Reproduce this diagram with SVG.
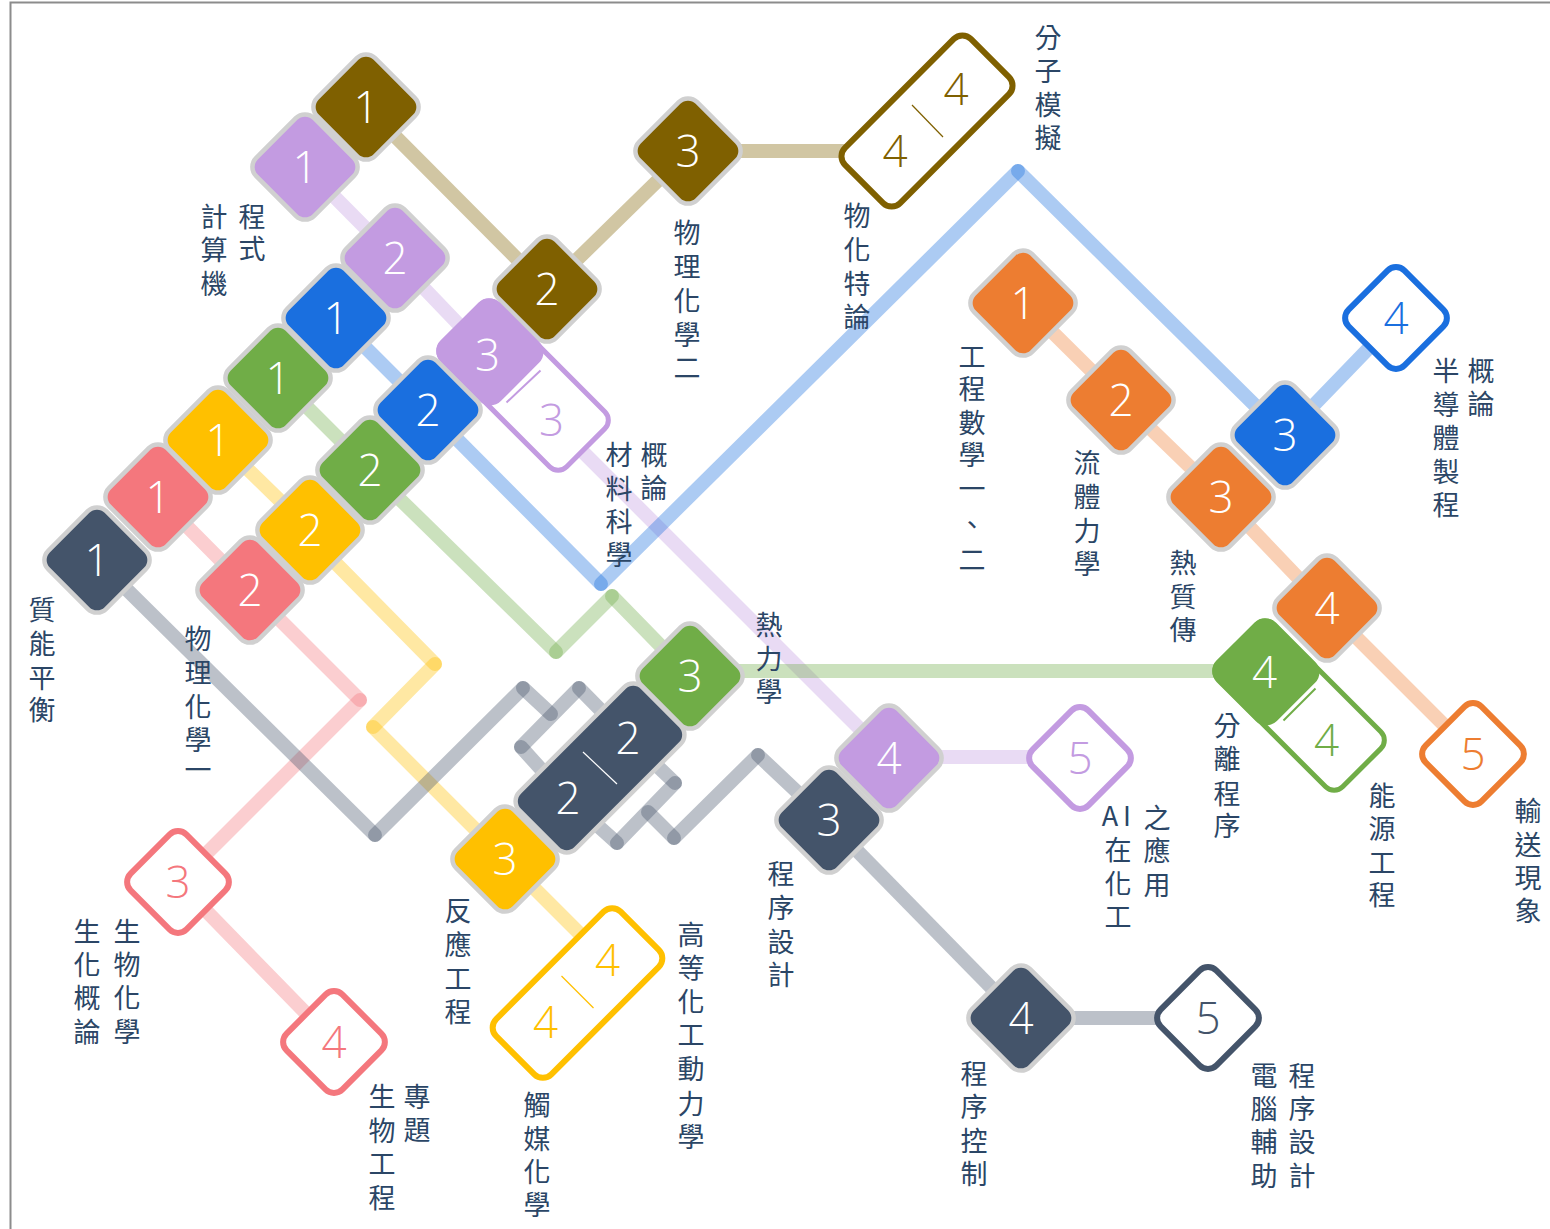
<svg xmlns="http://www.w3.org/2000/svg" width="1550" height="1229" viewBox="0 0 1550 1229">
<style>
.num{font-family:"Open Sans","Liberation Sans",sans-serif;font-weight:300;font-size:44px;text-anchor:middle}
.w{fill:#fff}
.lb{font-family:"Noto Sans CJK TC","Noto Sans CJK SC",sans-serif;font-size:27px;fill:#2b4666;text-anchor:middle}
.f{stroke:#d0d0d0;stroke-width:4.5}
.o{fill:#fff;stroke-width:6}
.c line{fill:none;stroke-width:14;stroke-linecap:round;stroke-opacity:.36}
.brown{--c:#7f6000}.purple{--c:#c39be1}.blue{--c:#1a6fdf}.green{--c:#70ad47}.yellow{--c:#ffc000}.red{--c:#f4777d}.dark{--c:#44546a}.orange{--c:#ed7d31}
.f,.s{fill:var(--c)}
.o,.c .k{stroke:var(--c)}
.t{fill:var(--c)}
.dv{stroke-width:1.2;fill:none}
</style>
<defs>
<rect id="sq" x="-41" y="-41" width="82" height="82" rx="13" transform="rotate(45)"/>
<rect id="sqo" x="-39.5" y="-39.5" width="79" height="79" rx="12" transform="rotate(45)"/>
</defs>
<rect id="frame" x="10.5" y="2.5" width="1600" height="1300" fill="#fff" stroke="#8c8c8c" stroke-width="2"/>
<g id="connectors" class="c">
<g class="brown"><line class="k" x1="366" y1="107" x2="547" y2="289"/><line class="k" x1="547" y1="289" x2="688" y2="151"/><line class="k" x1="688" y1="151" x2="895" y2="151"/></g>
<g class="purple"><line class="k" x1="305" y1="167" x2="395" y2="258"/><line class="k" x1="395" y1="258" x2="488" y2="355"/><line class="k" x1="551" y1="420" x2="889" y2="758"/><line class="k" x1="889" y1="757" x2="1079" y2="757"/></g>
<g class="blue"><line class="k" x1="336" y1="318" x2="428" y2="410"/><line class="k" x1="428" y1="410" x2="601" y2="584"/><line class="k" x1="601" y1="584" x2="1018" y2="171"/><line class="k" x1="1018" y1="171" x2="1285" y2="435"/><line class="k" x1="1285" y1="435" x2="1396" y2="320"/></g>
<g class="green"><line class="k" x1="278" y1="378" x2="370" y2="470"/><line class="k" x1="370" y1="470" x2="556" y2="652"/><line class="k" x1="556" y1="652" x2="612" y2="596"/><line class="k" x1="612" y1="596" x2="690" y2="676"/><line class="k" x1="690" y1="671" x2="1265" y2="671"/></g>
<g class="yellow"><line class="k" x1="218" y1="440" x2="310" y2="530"/><line class="k" x1="309" y1="536" x2="435" y2="664"/><line class="k" x1="435" y1="664" x2="373" y2="727"/><line class="k" x1="373" y1="727" x2="505" y2="859"/><line class="k" x1="505" y1="859" x2="607" y2="961"/></g>
<g class="red"><line class="k" x1="158" y1="497" x2="250" y2="590"/><line class="k" x1="250" y1="590" x2="360" y2="700"/><line class="k" x1="360" y1="700" x2="178" y2="882"/><line class="k" x1="178" y1="882" x2="334" y2="1042"/></g>
<g class="dark"><line class="k" x1="97" y1="560" x2="375" y2="835"/><line class="k" x1="375" y1="835" x2="523" y2="688"/><line class="k" x1="523" y1="688" x2="551" y2="714"/><line class="k" x1="579" y1="688" x2="521" y2="747"/><line class="k" x1="579" y1="688" x2="628" y2="738"/><line class="k" x1="521" y1="747" x2="567" y2="798"/><line class="k" x1="628" y1="738" x2="675" y2="783"/><line class="k" x1="675" y1="783" x2="617" y2="843"/><line class="k" x1="617" y1="843" x2="567" y2="798"/><line class="k" x1="648" y1="812" x2="674" y2="838"/><line class="k" x1="674" y1="838" x2="758" y2="755"/><line class="k" x1="758" y1="755" x2="829" y2="822"/><line class="k" x1="829" y1="822" x2="1021" y2="1018"/><line class="k" x1="1021" y1="1018" x2="1208" y2="1018"/></g>
<g class="orange"><line class="k" x1="1023" y1="303" x2="1121" y2="400"/><line class="k" x1="1121" y1="400" x2="1221" y2="497"/><line class="k" x1="1221" y1="497" x2="1327" y2="608"/><line class="k" x1="1327" y1="608" x2="1473" y2="754"/></g>
</g>
<g id="nodes">
<g id="n-brown-1" class="brown" transform="translate(366 107)"><use href="#sq" class="f"/><text class="num w" y="16">1</text></g>
<g id="n-purple-1" class="purple" transform="translate(305 167)"><use href="#sq" class="f"/><text class="num w" y="16">1</text></g>
<g id="n-purple-2" class="purple" transform="translate(395 258)"><use href="#sq" class="f"/><text class="num w" y="16">2</text></g>
<g id="n-blue-1" class="blue" transform="translate(336 318)"><use href="#sq" class="f"/><text class="num w" y="16">1</text></g>
<g id="n-green-1" class="green" transform="translate(278 378)"><use href="#sq" class="f"/><text class="num w" y="16">1</text></g>
<g id="n-yellow-1" class="yellow" transform="translate(218 440)"><use href="#sq" class="f"/><text class="num w" y="16">1</text></g>
<g id="n-red-1" class="red" transform="translate(158 497)"><use href="#sq" class="f"/><text class="num w" y="16">1</text></g>
<g id="n-dark-1" class="dark" transform="translate(97 560)"><use href="#sq" class="f"/><text class="num w" y="16">1</text></g>
<g id="n-brown-2" class="brown" transform="translate(547 289)"><use href="#sq" class="f"/><text class="num w" y="16">2</text></g>
<g id="n-brown-3" class="brown" transform="translate(688 151)"><use href="#sq" class="f"/><text class="num w" y="16">3</text></g>
<g id="n-brown-44" class="brown" transform="translate(927 121)"><rect class="o" x="-89" y="-39" width="178" height="78" rx="12" transform="rotate(-45)"/><line class="o dv" x1="-15" y1="-16" x2="16" y2="16"/><text class="num t" x="-32" y="46">4</text><text class="num t" x="29" y="-16">4</text></g>
<g id="n-purple-33" class="purple" transform="translate(523.5 385.5)"><g transform="rotate(45)"><rect class="o" style="stroke-width:5" x="-88" y="-39" width="176" height="78" rx="12"/><rect class="s" x="-90" y="-42" width="85" height="84" rx="15"/></g><line class="o dv" style="stroke-width:2" x1="-17" y1="17" x2="17" y2="-15"/><text class="num t" x="28" y="50">3</text><text class="num w" x="-36" y="-15">3</text></g>
<g id="n-blue-2" class="blue" transform="translate(428 410)"><use href="#sq" class="f"/><text class="num w" y="16">2</text></g>
<g id="n-green-2" class="green" transform="translate(370 470)"><use href="#sq" class="f"/><text class="num w" y="16">2</text></g>
<g id="n-yellow-2" class="yellow" transform="translate(310 530)"><use href="#sq" class="f"/><text class="num w" y="16">2</text></g>
<g id="n-red-2" class="red" transform="translate(250 590)"><use href="#sq" class="f"/><text class="num w" y="16">2</text></g>
<g id="n-dark-22" class="dark" transform="translate(600 768)"><rect class="f" x="-87" y="-40" width="174" height="80" rx="13" transform="rotate(-45)"/><line stroke="#fff" stroke-width="1.2" x1="-17" y1="-16" x2="17" y2="16"/><text class="num w" x="-32" y="46">2</text><text class="num w" x="28" y="-14">2</text></g>
<g id="n-green-3" class="green" transform="translate(690 676)"><use href="#sq" class="f"/><text class="num w" y="16">3</text></g>
<g id="n-yellow-3" class="yellow" transform="translate(505 859)"><use href="#sq" class="f"/><text class="num w" y="16">3</text></g>
<g id="n-yellow-44" class="yellow" transform="translate(577.5 993)"><rect class="o" x="-88" y="-39" width="176" height="78" rx="12" transform="rotate(-45)"/><line class="o dv" x1="-16" y1="-17" x2="16" y2="15"/><text class="num t" x="-32" y="45">4</text><text class="num t" x="30" y="-17">4</text></g>
<g id="n-red-3" class="red" transform="translate(178 882)"><use href="#sqo" class="o"/><text class="num t" y="16">3</text></g>
<g id="n-red-4" class="red" transform="translate(334 1042)"><use href="#sqo" class="o"/><text class="num t" y="16">4</text></g>
<g id="n-dark-3" class="dark" transform="translate(829 820)"><use href="#sq" class="f"/><text class="num w" y="16">3</text></g>
<g id="n-purple-4" class="purple" transform="translate(889 758)"><use href="#sq" class="f"/><text class="num w" y="16">4</text></g>
<g id="n-purple-5" class="purple" transform="translate(1080 758)"><use href="#sqo" class="o"/><text class="num t" y="16">5</text></g>
<g id="n-dark-4" class="dark" transform="translate(1021 1018)"><use href="#sq" class="f"/><text class="num w" y="16">4</text></g>
<g id="n-dark-5" class="dark" transform="translate(1208 1018)"><use href="#sqo" class="o"/><text class="num t" y="16">5</text></g>
<g id="n-orange-1" class="orange" transform="translate(1023 303)"><use href="#sq" class="f"/><text class="num w" y="16">1</text></g>
<g id="n-orange-2" class="orange" transform="translate(1121 400)"><use href="#sq" class="f"/><text class="num w" y="16">2</text></g>
<g id="n-green-44" class="green" transform="translate(1299.5 705.5)"><g transform="rotate(45)"><rect class="o" style="stroke-width:5" x="-88" y="-39" width="176" height="78" rx="12"/><rect class="s" x="-90" y="-42" width="85" height="84" rx="15"/></g><line class="o dv" style="stroke-width:2" x1="-16" y1="15" x2="16" y2="-17"/><text class="num t" x="27" y="50">4</text><text class="num w" x="-35" y="-18">4</text></g>
<g id="n-orange-3" class="orange" transform="translate(1221 497)"><use href="#sq" class="f"/><text class="num w" y="16">3</text></g>
<g id="n-blue-3" class="blue" transform="translate(1285 435)"><use href="#sq" class="f"/><text class="num w" y="16">3</text></g>
<g id="n-blue-4" class="blue" transform="translate(1396 318)"><use href="#sqo" class="o"/><text class="num t" y="16">4</text></g>
<g id="n-orange-4" class="orange" transform="translate(1327 608)"><use href="#sq" class="f"/><text class="num w" y="16">4</text></g>
<g id="n-orange-5" class="orange" transform="translate(1473 754)"><use href="#sqo" class="o"/><text class="num t" y="16">5</text></g>
</g>
<g id="labels">
<text class="lb" x="42 42 42 42" y="620 654 688 720">質能平衡</text>
<text class="lb" x="214 214 214" y="227 260 294">計算機</text>
<text class="lb" x="252 252" y="227 259">程式</text>
<text class="lb" x="687 687 687 687 687" y="243 277 311 345 378">物理化學二</text>
<text class="lb" x="857 857 857 857" y="226 260 294 327">物化特論</text>
<text class="lb" x="1048 1048 1048 1048" y="48 81 115 148">分子模擬</text>
<text class="lb" x="972 972 972 972 972 972 972" y="367 399 433 465 499 535 570">工程數學一、二</text>
<text class="lb" x="1087 1087 1087 1087" y="473 507 541 574">流體力學</text>
<text class="lb" x="1183 1183 1183" y="573 607 640">熱質傳</text>
<text class="lb" x="1446 1446 1446 1446 1446" y="381 415 448 482 515">半導體製程</text>
<text class="lb" x="1481 1481" y="381 414">概論</text>
<text class="lb" x="619 619 619 619" y="465 499 532 565">材料科學</text>
<text class="lb" x="654 654" y="465 498">概論</text>
<text class="lb" x="769 769 769" y="635 669 702">熱力學</text>
<text class="lb" x="198 198 198 198 198" y="649 683 717 750 780">物理化學一</text>
<text class="lb" x="1528 1528 1528 1528" y="821 855 888 921">輸送現象</text>
<text class="lb" x="1382 1382 1382 1382" y="806 839 873 905">能源工程</text>
<text class="lb" x="1227 1227 1227 1227" y="736 769 804 836">分離程序</text>
<text class="lb" x="1110 1127 1118 1118 1118" y="826 826 860 894 927">AI在化工</text>
<text class="lb" x="1157 1157 1157" y="828 861 895">之應用</text>
<text class="lb" x="781 781 781 781" y="884 918 952 985">程序設計</text>
<text class="lb" x="458 458 458 458" y="921 955 989 1022">反應工程</text>
<text class="lb" x="691 691 691 691 691 691 691" y="945 978 1012 1045 1079 1114 1147">高等化工動力學</text>
<text class="lb" x="537 537 537 537" y="1115 1149 1182 1215">觸媒化學</text>
<text class="lb" x="87 87 87 87" y="942 975 1008 1042">生化概論</text>
<text class="lb" x="127 127 127 127" y="942 975 1008 1042">生物化學</text>
<text class="lb" x="382 382 382 382" y="1107 1141 1174 1208">生物工程</text>
<text class="lb" x="417 417" y="1107 1140">專題</text>
<text class="lb" x="974 974 974 974" y="1084 1117 1151 1184">程序控制</text>
<text class="lb" x="1264 1264 1264 1264" y="1086 1119 1152 1186">電腦輔助</text>
<text class="lb" x="1302 1302 1302 1302" y="1086 1119 1152 1186">程序設計</text>
</g>
</svg>
